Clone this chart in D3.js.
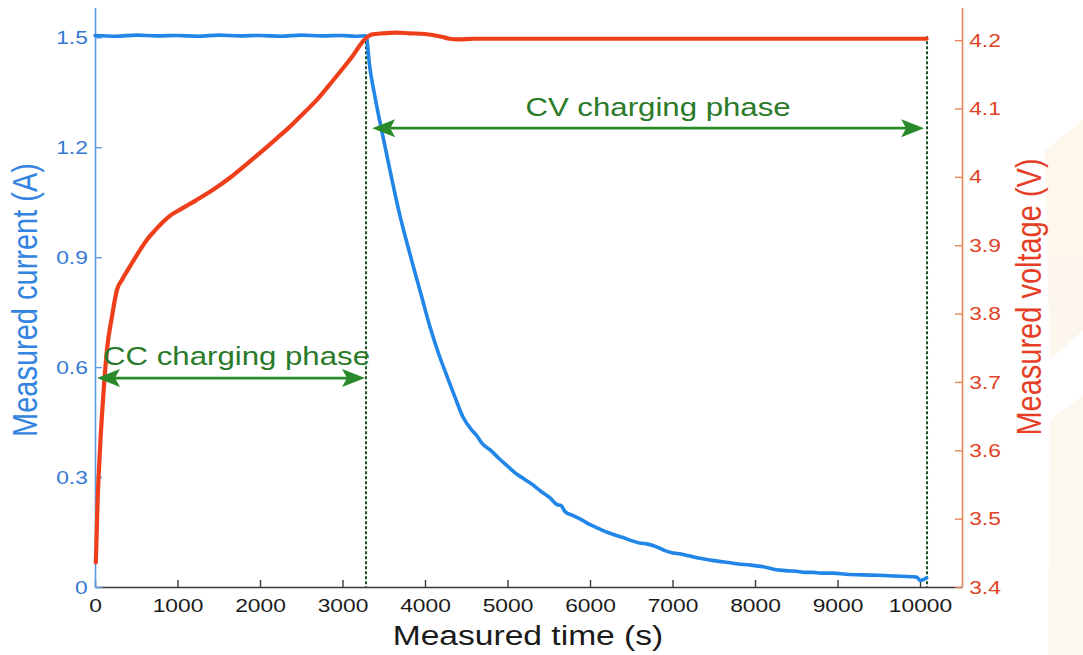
<!DOCTYPE html>
<html>
<head>
<meta charset="utf-8">
<script src="https://cdn.jsdelivr.net/npm/d3@7"></script>
<style>
  html, body { margin: 0; padding: 0; background: #fff; }
  svg { display: block; font-family: "Liberation Sans", Arial, sans-serif; }
</style>
</head>
<body>
<svg id="chart" width="1083" height="655"></svg>
<script>
// Charging record of a Li-ion cell: constant current phase followed by constant voltage phase.
const currentTime = [0, 250, 500, 750, 1000, 1250, 1500, 1750, 2000, 2250, 2500, 2750, 3000, 3150, 3285,
  3330, 3400, 3480, 3550, 3620, 3700, 3780, 3860, 3950, 4060, 4160, 4270, 4360, 4460, 4560, 4620, 4700,
  4790, 4900, 5000, 5100, 5200, 5300, 5400, 5515, 5600, 5650, 5700, 5794, 5900, 6000, 6100, 6200, 6300,
  6400, 6485, 6600, 6700, 6800, 6900, 7006, 7100, 7200, 7300, 7400, 7500, 7600, 7700, 7800, 7940, 8100,
  8200, 8300, 8400, 8500, 8600, 8700, 8800, 8945, 9100, 9300, 9500, 9700, 9900, 9960, 10000, 10040, 10080];
const currentA = [1.505, 1.503, 1.506, 1.504, 1.505, 1.503, 1.506, 1.504, 1.505, 1.503, 1.506, 1.504, 1.505, 1.503, 1.504,
  1.42, 1.33, 1.24, 1.165, 1.09, 1.01, 0.94, 0.873, 0.80, 0.71, 0.64, 0.573, 0.52, 0.464, 0.43, 0.415, 0.39,
  0.374, 0.35, 0.33, 0.31, 0.295, 0.28, 0.262, 0.243, 0.225, 0.222, 0.205, 0.195, 0.183, 0.17, 0.16, 0.15, 0.142,
  0.135, 0.128, 0.12, 0.117, 0.11, 0.10, 0.093, 0.09, 0.085, 0.08, 0.076, 0.072, 0.069, 0.066, 0.063, 0.06, 0.055,
  0.05, 0.046, 0.044, 0.043, 0.04, 0.04, 0.038, 0.038, 0.035, 0.033, 0.032, 0.03, 0.028, 0.027, 0.018, 0.02, 0.025];

const voltageTime = [10, 30, 60, 97, 145, 206, 267, 330, 424, 520, 630, 730, 824, 920, 1030, 1230, 1430, 1640,
  1842, 2000, 2200, 2350, 2485, 2700, 2885, 3100, 3285, 3350, 3490, 3650, 3818, 4000, 4200, 4300, 4390,
  4600, 5500, 6500, 7500, 8500, 9500, 10080];
const voltageV = [3.436, 3.52, 3.60, 3.674, 3.747, 3.796, 3.835, 3.85, 3.869, 3.888, 3.908, 3.922, 3.934, 3.944,
  3.952, 3.966, 3.981, 3.999, 4.019, 4.035, 4.056, 4.072, 4.088, 4.114, 4.141, 4.173, 4.203, 4.208, 4.21, 4.211,
  4.21, 4.209, 4.205, 4.202, 4.201, 4.202, 4.202, 4.202, 4.202, 4.202, 4.202, 4.202];

const timeTicks = [0, 1000, 2000, 3000, 4000, 5000, 6000, 7000, 8000, 9000, 10000];
const currentTicks = [0, 0.3, 0.6, 0.9, 1.2, 1.5];
const voltageTicks = [3.4, 3.5, 3.6, 3.7, 3.8, 3.9, 4.0, 4.1, 4.2];

// phase boundaries (s) and arrow levels (A)
const phaseTimes = [0, 3285, 10085];
const ccArrowLevel = 0.57;
const cvArrowLevel = 1.252;
const cvArrowStart = 3360;
const cvArrowEnd = 10050;

const svg = d3.select("#chart");
const plotL = 95, plotR = 962, plotT = 8, plotB = 587;
const SX = 1.2; // horizontal glyph stretch

const x = d3.scaleLinear().domain([0, 10509]).range([plotL, plotR]);
const yI = d3.scaleLinear().domain([0, 1.58]).range([plotB, plotT]);
const yV = d3.scaleLinear().domain([3.4, 4.247]).range([plotB, plotT]);

const blueLine = "#2186e8", blueAxis = "#5b9be6", blueText = "#3579d4";
const redLine = "#ef3f1a", redAxis = "#e8845c", redText = "#df4326";
const green = "#2a8a2a", greenText = "#2a7a2a", dashGreen = "#1d5226";

// faint backdrop shapes at the right margin
const wm = svg.append("g").attr("opacity", 0.4);
wm.append("path").attr("d", "M1045,150 L1083,120 L1083,330 L1050,360 Z").attr("fill", "#fbead0");
wm.append("path").attr("d", "M1050,420 L1083,395 L1083,655 L1048,655 Z").attr("fill", "#fcefd8");

// dashed phase boundaries
[phaseTimes[1], phaseTimes[2]].forEach(t => {
  svg.append("line")
    .attr("x1", x(t)).attr("x2", x(t))
    .attr("y1", yI(1.503)).attr("y2", plotB)
    .attr("stroke", dashGreen).attr("stroke-width", 2)
    .attr("stroke-dasharray", "3,2");
});

// axes
const axB = svg.append("g").attr("transform", `translate(0,${plotB})`)
  .call(d3.axisBottom(x).tickValues(timeTicks).tickSizeInner(-7).tickSizeOuter(0).tickPadding(12).tickFormat(d3.format("d")));
axB.select(".domain").attr("stroke", "#3a3a3a").attr("stroke-width", 1.4);
axB.selectAll(".tick line").attr("stroke", "#3a3a3a").attr("stroke-width", 1.4);
axB.selectAll(".tick text").attr("fill", "#1a1a1a").attr("font-size", 19)
  .attr("font-family", "Liberation Sans, Arial, sans-serif").attr("transform", `scale(${SX},1)`);

const axL = svg.append("g").attr("transform", `translate(${plotL},0)`)
  .call(d3.axisLeft(yI).tickValues(currentTicks).tickSizeInner(-7).tickSizeOuter(0).tickPadding(6)
    .tickFormat(d => d === 0 ? "0" : d3.format(".1f")(d)));
axL.select(".domain").attr("stroke", blueAxis).attr("stroke-width", 1.6)
  .attr("d", `M0.5,${plotT}V${plotB}`);
axL.selectAll(".tick line").attr("stroke", blueAxis).attr("stroke-width", 1.4);
axL.selectAll(".tick text").attr("fill", blueText).attr("font-size", 19)
  .attr("font-family", "Liberation Sans, Arial, sans-serif").attr("transform", `scale(${SX},1)`);

const axR = svg.append("g").attr("transform", `translate(${plotR},0)`)
  .call(d3.axisRight(yV).tickValues(voltageTicks).tickSizeInner(-7).tickSizeOuter(0).tickPadding(6)
    .tickFormat(d => d3.format(".1f")(d).replace(/\.0$/, "")));
axR.select(".domain").attr("stroke", redAxis).attr("stroke-width", 1.6)
  .attr("d", `M0.5,${plotT}V${plotB}`);
axR.selectAll(".tick line").attr("stroke", redAxis).attr("stroke-width", 1.4);
axR.selectAll(".tick text").attr("fill", redText).attr("font-size", 19)
  .attr("font-family", "Liberation Sans, Arial, sans-serif").attr("transform", `scale(${SX},1)`);

// series
const currentPts = currentTime.map((t, i) => [t, currentA[i]]);
const voltagePts = voltageTime.map((t, i) => [t, voltageV[i]]);

svg.append("path").datum(currentPts)
  .attr("fill", "none").attr("stroke", blueLine).attr("stroke-width", 3.6)
  .attr("stroke-linejoin", "round").attr("stroke-linecap", "round")
  .attr("d", d3.line().x(d => x(d[0])).y(d => yI(d[1])).curve(d3.curveMonotoneX));

svg.append("path").datum(voltagePts)
  .attr("fill", "none").attr("stroke", redLine).attr("stroke-width", 4.2)
  .attr("stroke-linejoin", "round").attr("stroke-linecap", "round")
  .attr("d", d3.line().x(d => x(d[0])).y(d => yV(d[1])).curve(d3.curveMonotoneX));

// double-headed arrows
function arrow(x1, x2, y) {
  const g = svg.append("g");
  const hl = 23, hw = 9, notch = 5;
  g.append("line").attr("x1", x1 + hl - notch).attr("x2", x2 - hl + notch)
    .attr("y1", y).attr("y2", y).attr("stroke", green).attr("stroke-width", 2.8);
  g.append("path").attr("fill", green)
    .attr("d", `M${x1},${y} L${x1 + hl},${y - hw} L${x1 + hl - notch},${y} L${x1 + hl},${y + hw} Z`);
  g.append("path").attr("fill", green)
    .attr("d", `M${x2},${y} L${x2 - hl},${y - hw} L${x2 - hl + notch},${y} L${x2 - hl},${y + hw} Z`);
}
arrow(x(phaseTimes[0]) + 2, x(phaseTimes[1]) - 1, yI(ccArrowLevel));
arrow(x(cvArrowStart), x(cvArrowEnd), yI(cvArrowLevel));

// text helper with horizontal stretch
function label(tx, ty, str, size, fill, rot) {
  return svg.append("text")
    .attr("transform", `translate(${tx},${ty}) scale(${SX},1)` + (rot ? ` rotate(${rot})` : ""))
    .attr("text-anchor", "middle").attr("font-size", size).attr("fill", fill)
    .text(str);
}

label(236.5, 365, "CC charging phase", 26, greenText);
label(658, 116, "CV charging phase", 26, greenText);
label(528, 645, "Measured time (s)", 28, "#1a1a1a");
label(37, 300, "Measured current (A)", 29, "#3284e0", -90);
label(1041, 297, "Measured voltage (V)", 29, "#e63e26", -90);
</script>
</body>
</html>
